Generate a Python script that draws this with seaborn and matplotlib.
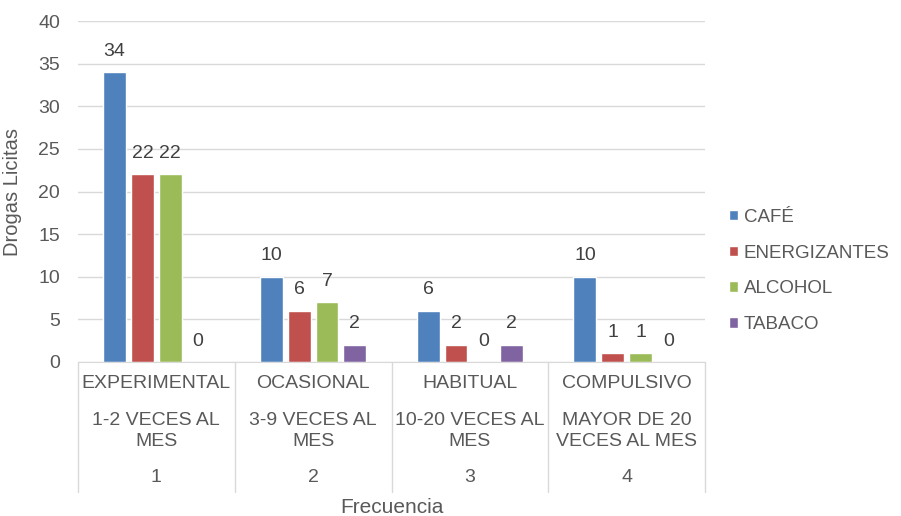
#------------------------Drogas Licitas: grouped bar chart---------------------
import pandas as pd
import numpy as np
import matplotlib
matplotlib.use("Agg")
import matplotlib.pyplot as plt
import matplotlib.transforms as mtransforms
import seaborn as sns

# Data
grupos = ["1", "2", "3", "4"]
nivel1 = ["EXPERIMENTAL", "OCASIONAL", "HABITUAL", "COMPULSIVO"]
nivel2 = ["1-2 VECES AL\nMES", "3-9 VECES AL\nMES", "10-20 VECES AL\nMES", "MAYOR DE 20\nVECES AL MES"]
drogas = ["CAFÉ", "ENERGIZANTES", "ALCOHOL", "TABACO"]
cafe = [34, 10, 6, 10]
energizantes = [22, 6, 2, 1]
alcohol = [22, 7, 0, 1]
tabaco = [0, 2, 2, 0]
colores = ["#4F81BD", "#C0504D", "#9BBB59", "#8064A2"]

# Long-form table for seaborn
valores = [cafe, energizantes, alcohol, tabaco]
rows = []
for d, vals in zip(drogas, valores):
    for g, v in zip(grupos, vals):
        rows.append({"grupo": g, "droga": d, "valor": v})
df = pd.DataFrame(rows)

# Settings
sns.set_style("white")
plt.rcParams["font.family"] = ["Liberation Sans", "DejaVu Sans"]
gris = "#595959"
linea = "#d9d9d9"
fs = 14

fig = plt.figure(figsize=(9.01, 5.16), dpi=100)
ax = fig.add_axes([78/901, 1-362/516, 627/901, 341/516])

sns.barplot(data=df, x="grupo", y="valor", hue="droga", order=grupos,
            hue_order=drogas, palette=colores, width=0.71, gap=0.18,
            saturation=1, ax=ax, legend=True)

for cont in ax.containers:
    ax.bar_label(cont, padding=9, fontsize=fs, color="#404040")

ax.set_ylim(0, 40)
ax.set_xlim(-0.5, 3.5)
ax.set_yticks(range(0, 41, 5))
ax.tick_params(axis="y", length=0, pad=13, labelsize=fs, labelcolor=gris)
ax.grid(axis="y", color=linea, linewidth=1)
ax.set_axisbelow(True)
for s in ["top", "right", "left"]:
    ax.spines[s].set_visible(False)
ax.spines["bottom"].set_color(linea)

ax.set_xticks([])
ax.set_xlabel("")
ax.set_ylabel("Drogas Licitas", fontsize=fs + 0.5, color=gris)
ax.yaxis.set_label_coords(-0.089, 0.5)

# Multi-level category axis
trans = mtransforms.blended_transform_factory(ax.transData, ax.transAxes)
for i in range(len(grupos)):
    ax.text(i, -0.0645, nivel1[i], transform=trans, ha="center", va="center",
            fontsize=fs, color=gris)
    ax.text(i, -0.202, nivel2[i], transform=trans, ha="center", va="center",
            fontsize=fs, color=gris, linespacing=1.3)
    ax.text(i, -0.340, grupos[i], transform=trans, ha="center", va="center",
            fontsize=fs, color=gris)
for xb in np.arange(-0.5, 4, 1):
    ax.plot([xb, xb], [0, -0.381], transform=trans, color=linea,
            linewidth=1, clip_on=False)
ax.text(0.5, -0.428, "Frecuencia", transform=ax.transAxes, ha="center",
        va="center", fontsize=fs + 1, color=gris)

# Legend outside on the right
handles, labels = ax.get_legend_handles_labels()
ax.get_legend().remove()
fig.legend(handles, labels, loc="center left", bbox_to_anchor=(0.79, 0.475),
           frameon=False, fontsize=13.5, labelcolor=gris, handlelength=0.5,
           handleheight=0.5, handletextpad=0.3, labelspacing=1.0)

fig.savefig("out.png", dpi=100)
